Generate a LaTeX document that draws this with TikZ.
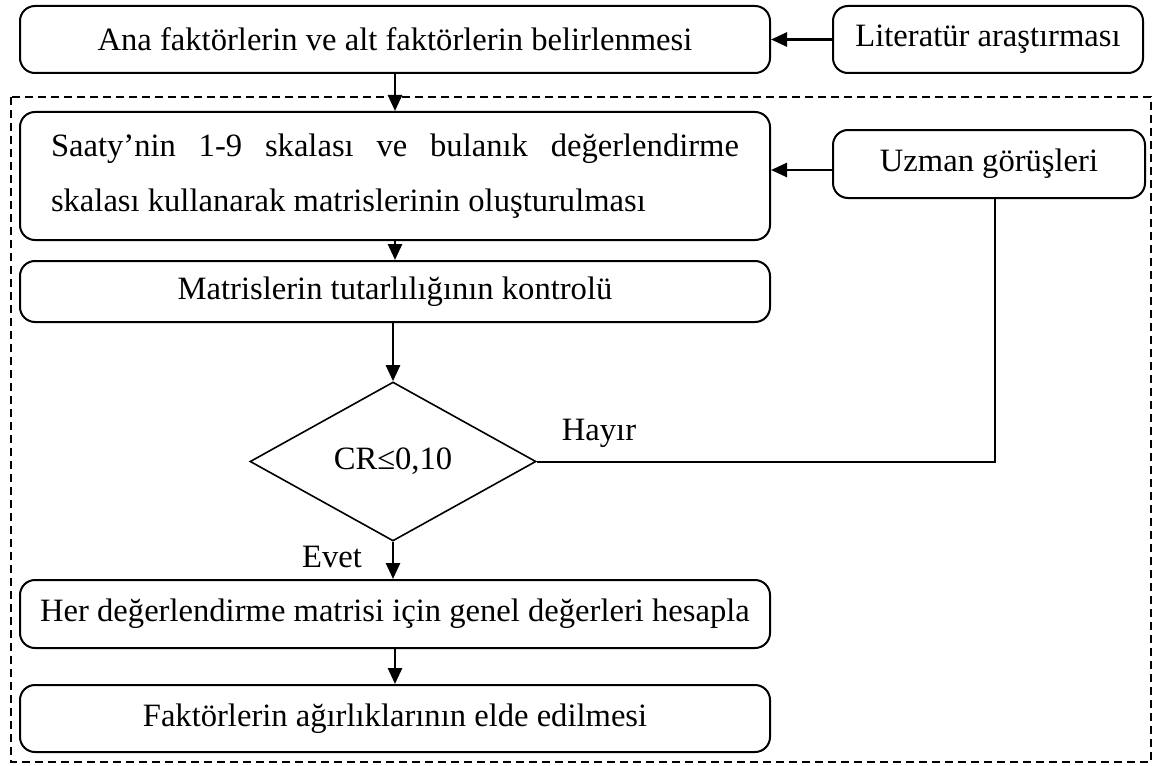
\documentclass[tikz,border=0pt]{standalone}
\usepackage{fontspec}
\setmainfont{Liberation Serif}
\usetikzlibrary{arrows.meta,shapes.geometric}
\begin{document}
\begin{tikzpicture}[x=0.5pt,y=-0.5pt,
  every node/.style={font=\fontsize{16.3}{27.5}\selectfont},
  box/.style={draw,line width=1pt,rounded corners=7.5pt,minimum width=375pt,inner sep=0pt},
  sidebox/.style={draw,line width=1pt,rounded corners=7.5pt,inner sep=0pt},
  arr/.style={line width=1.3pt,-{Triangle[length=8pt,width=7pt]}},
  lin/.style={line width=1pt},
  lbl/.style={inner sep=0pt}]
\useasboundingbox (0,0) rectangle (1155,765);
\draw[line width=0.8pt,dash pattern=on 4pt off 2.5pt] (11,97) rectangle (1151,762);
\node[box,minimum height=33.5pt] (b1) at (395,39.5) {Ana faktörlerin ve alt faktörlerin belirlenmesi};
\node[sidebox,minimum width=155pt,minimum height=33.5pt] (lit) at (988,39.5) {Literatür araştırması};
\node[box,minimum height=64pt,align=justify,text width=344pt] (b2) at (395,176) {Saaty’nin 1-9 skalası ve bulanık değerlendirme\linebreak skalası kullanarak matrislerinin oluşturulması};
\node[sidebox,minimum width=156pt,minimum height=34pt] (uz) at (989,164) {Uzman görüşleri};
\node[box,minimum height=30.5pt] (b3) at (395,291.5) {Matrislerin tutarlılığının kontrolü};
\node[diamond,draw,line width=0.8pt,inner sep=0pt,minimum width=143pt,minimum height=79.5pt] (dia) at (393,461.5) {CR≤0,10};
\node[box,minimum height=34pt] (b4) at (395,614) {Her değerlendirme matrisi için genel değerleri hesapla};
\node[box,minimum height=33.5pt] (b5) at (395,718.5) {Faktörlerin ağırlıklarının elde edilmesi};
\draw[arr] (lit.west) -- (b1.east);
\draw[arr] (b1.south) -- (b2.north);
\draw[arr] ([yshift=-3pt]uz.west) -- ([yshift=-3pt]uz.west -| b2.east);
\draw[arr] (b2.south) -- (b3.north);
\draw[arr] (b3.south -| dia.north) -- (dia.north);
\draw[arr] (dia.south) -- (dia.south |- b4.north);
\draw[arr] (b4.south) -- (b5.north);
\draw[lin] ([xshift=3pt]uz.south) |- (dia.east);
\node[lbl] (hayir) at (599,433) {Hayır};
\node[lbl] (evet) at (332,557) {Evet};
\end{tikzpicture}
\end{document}
